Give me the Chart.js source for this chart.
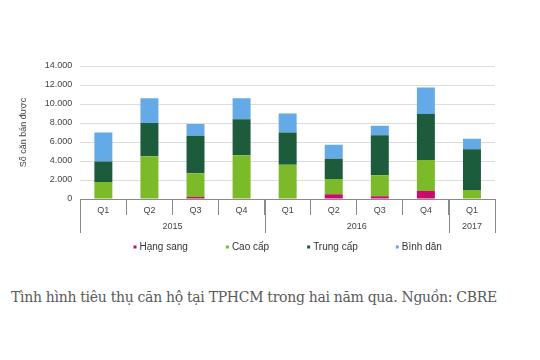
<!DOCTYPE html>
<html lang="vi">
<head>
    <meta charset="UTF-8">
    <title>Tình hình tiêu thụ căn hộ tại TPHCM</title>
    <script src="https://cdn.jsdelivr.net/npm/chart.js"></script>
    <style>
        body {
            margin: 0;
            background: #ffffff;
            font-family: "Liberation Sans", Arial, sans-serif;
        }
        .wrap {
            position: relative;
            width: 540px;
            height: 262px;
        }
        .caption {
            position: absolute;
            left: 11px;
            top: 289px;
            font-family: "DejaVu Serif", serif;
            font-size: 14px;
            color: #5a5a5a;
            white-space: nowrap;
            letter-spacing: -0.3px;
        }
    </style>
</head>
<body>
    <div class="wrap">
        <canvas id="chart"></canvas>
    </div>
    <div class="caption">Tình hình tiêu thụ căn hộ tại TPHCM trong hai năm qua. Nguồn: CBRE</div>

    <script>
        // Quý và năm
        const quarters = ['Q1', 'Q2', 'Q3', 'Q4', 'Q1', 'Q2', 'Q3', 'Q4', 'Q1'];
        const years = ['2015', '2016', '2017'];
        const yearSpan = [4, 4, 1]; // số quý mỗi năm

        // Số căn bán được theo phân khúc
        const hangSang = [0, 0, 200, 0, 0, 500, 300, 850, 0];
        const caoCap = [1800, 4500, 2500, 4600, 3600, 1600, 2200, 3250, 950];
        const trungCap = [2150, 3500, 3950, 3800, 3400, 2150, 4200, 4850, 4300];
        const binhDan = [3050, 2600, 1250, 2200, 2000, 1450, 1000, 2800, 1100];

        const colors = ['#cc0a6e', '#7cba2a', '#1c5b3b', '#64aae6'];
        const FONT = '"Liberation Sans", Arial, sans-serif';

        // vẽ hàng năm dưới trục x + chú thích
        const extras = {
            id: 'extras',
            afterDraw(chart) {
                const x = chart.scales.x;
                const ctx = chart.ctx;
                const half = (x.getPixelForValue(1) - x.getPixelForValue(0)) / 2;
                const top = x.top;
                ctx.save();
                ctx.strokeStyle = '#8a8a8a';
                ctx.lineWidth = 1;
                ctx.fillStyle = '#444';
                ctx.font = '9px ' + FONT;
                ctx.textAlign = 'center';
                ctx.textBaseline = 'middle';
                let start = 0;
                for (let i = 0; i < years.length; i++) {
                    const end = start + yearSpan[i] - 1;
                    const left = x.getPixelForValue(start) - half;
                    const right = x.getPixelForValue(end) + half;
                    [left, right].forEach(px => {
                        ctx.beginPath();
                        ctx.moveTo(Math.round(px) + 0.5, top);
                        ctx.lineTo(Math.round(px) + 0.5, top + 34);
                        ctx.stroke();
                    });
                    ctx.fillText(years[i], (left + right) / 2, top + 28);
                    start = end + 1;
                }

                // chú thích
                ctx.font = '10px ' + FONT;
                const ds = chart.data.datasets;
                const gap = 38, box = 3, boxGap = 3;
                const widths = ds.map(d => box + boxGap + ctx.measureText(d.label).width);
                const total = widths.reduce((a, b) => a + b, 0) + gap * (ds.length - 1);
                let lx = (chart.chartArea.left + chart.chartArea.right) / 2 - total / 2;
                const ly = x.bottom + 14;
                ctx.textAlign = 'left';
                ds.forEach((d, i) => {
                    ctx.fillStyle = d.backgroundColor;
                    ctx.fillRect(lx, ly - 1.5, box, box);
                    ctx.fillStyle = '#333';
                    ctx.fillText(d.label, lx + box + boxGap, ly);
                    lx += widths[i] + gap;
                });
                ctx.restore();
            }
        };

        new Chart(document.getElementById('chart'), {
            type: 'bar',
            data: {
                labels: quarters,
                datasets: [
                    { label: 'Hạng sang', data: hangSang, backgroundColor: colors[0] },
                    { label: 'Cao cấp', data: caoCap, backgroundColor: colors[1] },
                    { label: 'Trung cấp', data: trungCap, backgroundColor: colors[2] },
                    { label: 'Bình dân', data: binhDan, backgroundColor: colors[3] }
                ]
            },
            options: {
                responsive: true,
                maintainAspectRatio: false,
                animation: false,
                datasets: {
                    bar: { categoryPercentage: 1, barPercentage: 0.39 }
                },
                layout: { padding: { top: 66, right: 45, left: 10, bottom: 29 } },
                plugins: {
                    legend: { display: false },
                    tooltip: { enabled: false }
                },
                scales: {
                    x: {
                        stacked: true,
                        grid: {
                            display: true,
                            drawOnChartArea: false,
                            drawTicks: true,
                            tickLength: 16,
                            color: '#8a8a8a'
                        },
                        border: { display: true, color: '#8a8a8a' },
                        ticks: {
                            color: '#444',
                            padding: -10,
                            font: { size: 9, family: FONT }
                        },
                        afterFit(scale) { scale.height = 34; }
                    },
                    y: {
                        stacked: true,
                        min: 0,
                        max: 14000,
                        grid: { color: '#dcdcdc', drawTicks: false },
                        border: { display: false },
                        ticks: {
                            stepSize: 2000,
                            padding: 8,
                            color: '#444',
                            font: { size: 9, family: FONT },
                            callback: v => v.toString().replace(/\B(?=(\d{3})+(?!\d))/g, '.')
                        },
                        title: {
                            display: true,
                            text: 'Số căn bán được',
                            color: '#444',
                            padding: 8,
                            font: { size: 9, family: FONT }
                        }
                    }
                }
            },
            plugins: [extras]
        });
    </script>
</body>
</html>
